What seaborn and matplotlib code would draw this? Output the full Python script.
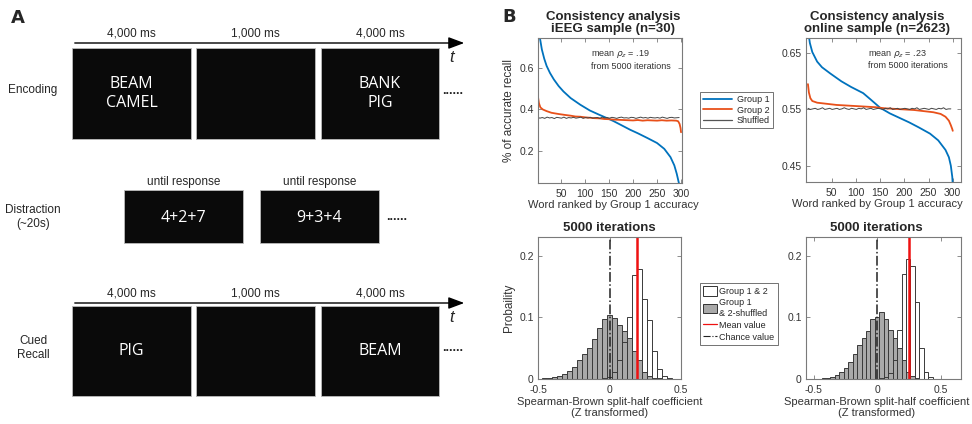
import numpy as np
import pandas as pd
import matplotlib
matplotlib.use("Agg")
import matplotlib.pyplot as plt
import seaborn as sns
from matplotlib.patches import Rectangle, Patch
from matplotlib.lines import Line2D

# ---------------- data ----------------
# Panel A schematic
enc_durations = ["4,000 ms", "1,000 ms", "4,000 ms"]
enc_words = ["BEAM\nCAMEL", "", "BANK\nPIG"]
dis_durations = ["until response", "until response"]
dis_words = ["4+2+7", "9+3+4"]
rec_durations = ["4,000 ms", "1,000 ms", "4,000 ms"]
rec_words = ["PIG", "", "BEAM"]
row_names = ["Encoding", "Distraction\n(~20s)", "Cued\nRecall"]

# Panel B top: recall curves (word rank -> accuracy)
g1_ieeg_rank = [1, 3, 6, 10, 15, 20, 27, 35, 45, 55, 70, 90, 110, 130, 145, 160, 175, 194, 210, 230,
                250, 265, 278, 286, 291, 294, 297, 300]
g1_ieeg = [0.80, 0.77, 0.745, 0.69, 0.645, 0.61, 0.576, 0.545, 0.513, 0.487, 0.455, 0.423, 0.395, 0.374,
           0.359, 0.343, 0.325, 0.302, 0.285, 0.262, 0.238, 0.21, 0.17, 0.13, 0.09, 0.06, 0.03, 0.0]
g2_ieeg_rank = [1, 2, 4, 7, 12, 20, 30, 45, 60, 70, 80, 90, 100, 110, 120, 130, 140, 150, 160, 170, 180,
                190, 200, 210, 220, 230, 240, 250, 260, 270, 280, 290, 294, 297, 299, 300]
g2_ieeg = [0.485, 0.46, 0.43, 0.41, 0.40, 0.392, 0.384, 0.378, 0.373, 0.37, 0.366, 0.365, 0.362, 0.36,
           0.358, 0.357, 0.354, 0.353, 0.351, 0.35, 0.349, 0.348, 0.347, 0.349, 0.346, 0.348, 0.347,
           0.346, 0.348, 0.346, 0.347, 0.346, 0.343, 0.33, 0.31, 0.29]
sh_rank = list(range(1, 301, 5))
sh_ieeg = [0.362, 0.358, 0.361, 0.357, 0.363, 0.359, 0.361, 0.356, 0.362, 0.360, 0.358, 0.363, 0.357,
           0.361, 0.359, 0.362, 0.358, 0.360, 0.363, 0.357, 0.361, 0.359, 0.362, 0.358, 0.360, 0.361,
           0.357, 0.363, 0.359, 0.361, 0.358, 0.362, 0.360, 0.357, 0.361, 0.363, 0.359, 0.360, 0.358,
           0.362, 0.361, 0.357, 0.360, 0.363, 0.359, 0.361, 0.358, 0.362, 0.360, 0.359, 0.361, 0.358,
           0.363, 0.360, 0.357, 0.361, 0.362, 0.359, 0.360, 0.361]

g1_onl_rank = [1, 3, 5, 10, 20, 30, 47, 70, 90, 115, 130, 150, 170, 190, 210, 230, 253, 270, 285, 292,
               296, 299, 300]
g1_onl = [0.70, 0.68, 0.668, 0.652, 0.635, 0.625, 0.614, 0.60, 0.59, 0.579, 0.568, 0.553, 0.543, 0.535,
          0.527, 0.518, 0.507, 0.495, 0.478, 0.465, 0.45, 0.43, 0.415]
g2_onl_rank = [1, 3, 6, 10, 20, 40, 60, 80, 100, 120, 140, 150, 160, 180, 200, 220, 240, 260, 275, 285,
               292, 296, 299, 300]
g2_onl = [0.595, 0.58, 0.57, 0.565, 0.562, 0.560, 0.558, 0.557, 0.556, 0.555, 0.554, 0.553, 0.552, 0.551,
          0.550, 0.549, 0.547, 0.545, 0.542, 0.537, 0.530, 0.522, 0.515, 0.512]
sh_onl = [0.552, 0.550, 0.551, 0.552, 0.550, 0.551, 0.553, 0.550, 0.551, 0.552, 0.550, 0.551, 0.552,
          0.550, 0.551, 0.553, 0.551, 0.550, 0.552, 0.551, 0.550, 0.552, 0.551, 0.553, 0.550, 0.551,
          0.552, 0.550, 0.551, 0.552, 0.551, 0.550, 0.552, 0.551, 0.553, 0.550, 0.551, 0.552, 0.550,
          0.551, 0.552, 0.551, 0.550, 0.552, 0.551, 0.553, 0.550, 0.551, 0.552, 0.551, 0.550, 0.552,
          0.551, 0.550, 0.552, 0.551, 0.553, 0.550, 0.551, 0.551]

# Panel B bottom: split-half histograms (bin centre -> probability)
bin_centers = [-0.455, -0.42, -0.385, -0.35, -0.315, -0.28, -0.245, -0.21, -0.175, -0.14, -0.105, -0.07,
               -0.035, 0.0, 0.035, 0.07, 0.105, 0.14, 0.175, 0.21, 0.245, 0.28, 0.315, 0.35, 0.385, 0.42]
shuf_ieeg_prob = [0.001, 0.002, 0.003, 0.005, 0.008, 0.013, 0.019, 0.030, 0.040, 0.051, 0.065, 0.083,
                  0.097, 0.103, 0.098, 0.087, 0.077, 0.067, 0.045, 0.030, 0.012, 0.005, 0.002, 0.001, 0.0, 0.0]
real_ieeg_prob = [0.0, 0.0, 0.0, 0.0, 0.0, 0.0, 0.0, 0.0, 0.0, 0.0, 0.0, 0.0,
                  0.001, 0.003, 0.012, 0.030, 0.060, 0.100, 0.168, 0.178, 0.130, 0.095, 0.046, 0.016, 0.005, 0.001]
shuf_onl_prob = [0.0, 0.001, 0.002, 0.004, 0.007, 0.012, 0.018, 0.028, 0.040, 0.055, 0.067, 0.077,
                 0.097, 0.101, 0.108, 0.097, 0.080, 0.066, 0.050, 0.030, 0.012, 0.005, 0.002, 0.0, 0.0, 0.0]
real_onl_prob = [0.0, 0.0, 0.0, 0.0, 0.0, 0.0, 0.0, 0.0, 0.0, 0.0, 0.0, 0.0,
                 0.0, 0.0, 0.001, 0.003, 0.010, 0.030, 0.080, 0.170, 0.195, 0.183, 0.125, 0.050, 0.012, 0.003]
mean_ieeg = 0.19
mean_onl = 0.25
chance = 0.0

# ---------------- style ----------------
sns.set_theme(style="ticks")
plt.rcParams["font.family"] = ["Liberation Sans", "DejaVu Sans"]
plt.rcParams["mathtext.fontset"] = "dejavusans"

W, H = 972, 424
fig = plt.figure(figsize=(W / 100, H / 100), dpi=100)


def rect(x0, y0, x1, y1):
    return [x0 / W, 1 - y1 / H, (x1 - x0) / W, (y1 - y0) / H]


BLUE = "#0072BD"
ORANGE = "#E8501A"
FRAME = "#7a7a7a"
TXT = "#333333"
EDGE = "#3a3a3a"

# ---------------- Panel A ----------------
axA = fig.add_axes([0, 0, 486 / W, 1])
axA.set_xlim(0, 486)
axA.set_ylim(424, 0)
axA.axis("off")
fontA = ["Liberation Sans", "DejaVu Sans"]
fontW = ["Open Sans", "DejaVu Sans"]

axA.text(11, 18, "A", fontsize=13, fontweight="bold", ha="left", va="center", family=["DejaVu Sans"])

box_x = [(72, 191), (196, 315), (321, 439)]
rows = [(48, 139, enc_durations, enc_words, 43, 0), (306, 396, rec_durations, rec_words, 303, 2)]
for (y0, y1, durs, words, ay, ri) in rows:
    axA.annotate("", xy=(467, ay), xytext=(72, ay),
                 arrowprops=dict(arrowstyle="-|>,head_length=0.8,head_width=0.3", color="black", lw=1.0))
    axA.text(452, ay + 14, "t", fontsize=12, style="italic", ha="center", va="center", family=fontA)
    for (x0, x1), d, w in zip(box_x, durs, words):
        axA.add_patch(Rectangle((x0, y0), x1 - x0, y1 - y0, facecolor="#0a0a0a", edgecolor="#bbbbbb", lw=0.6))
        axA.text((x0 + x1) / 2, ay - 9, d, fontsize=8.5, ha="center", va="center", family=fontA)
        if w:
            axA.text((x0 + x1) / 2, (y0 + y1) / 2, w, fontsize=11.5, color="white", ha="center",
                     va="center", family=fontW, linespacing=1.2)
    axA.text(453, (y0 + y1) / 2 - 3, "......", fontsize=9, fontweight="bold", ha="center",
             va="center", family=fontA)
    axA.text(33, (y0 + y1) / 2 - 3, row_names[ri], fontsize=8.5, ha="center", va="center",
             family=fontA, linespacing=1.3)

dis_x = [(124, 243), (260, 379)]
for (x0, x1), d, w in zip(dis_x, dis_durations, dis_words):
    axA.add_patch(Rectangle((x0, 190), x1 - x0, 53, facecolor="#0a0a0a", edgecolor="#bbbbbb", lw=0.6))
    axA.text((x0 + x1) / 2, 182, d, fontsize=8.5, ha="center", va="center", family=fontA)
    axA.text((x0 + x1) / 2, 218, w, fontsize=11.5, color="white", ha="center", va="center", family=fontW)
axA.text(397, 217, "......", fontsize=9, fontweight="bold", ha="center", va="center", family=fontA)
axA.text(33, 217, row_names[1], fontsize=8.5, ha="center", va="center", family=fontA, linespacing=1.3)

fig.text(509 / W, 1 - 17 / H, "B", fontsize=13, fontweight="bold", ha="center", va="center",
         family=["DejaVu Sans"])


def style_axes(ax):
    for s in ax.spines.values():
        s.set_color(FRAME)
        s.set_linewidth(0.8)
    ax.tick_params(direction="in", top=True, right=True, length=3, width=0.6, color=FRAME,
                   labelsize=7.5, labelcolor=TXT)
    ax.tick_params(axis="x", pad=4)
    ax.tick_params(axis="y", pad=3)


# ---------------- Panel B top ----------------
def curve_panel(rc, title, g1r, g1, g2r, g2, sh, ylim, yticks, xlim, note, ylabel, cx):
    ax = fig.add_axes(rect(*rc))
    sns.lineplot(x=g1r, y=g1, ax=ax, color=BLUE, lw=1.3)
    sns.lineplot(x=g2r, y=g2, ax=ax, color=ORANGE, lw=1.3)
    sns.lineplot(x=sh_rank, y=sh, ax=ax, color="#444444", lw=0.7)
    ax.set_xlim(*xlim)
    ax.set_ylim(*ylim)
    ax.set_xticks([50, 100, 150, 200, 250, 300])
    ax.set_yticks(yticks)
    ax.set_yticklabels([f"{v:g}" for v in yticks])
    style_axes(ax)
    ax.set_title(title, fontsize=9.5, fontweight="bold", pad=4, linespacing=1.1, x=cx)
    ax.set_xlabel("Word ranked by Group 1 accuracy", fontsize=8, color=TXT, labelpad=1)
    ax.xaxis.set_label_coords(cx, -0.115)
    ax.set_ylabel(ylabel, fontsize=8.5, color=TXT, labelpad=3)
    ax.text(0.37, 0.93, note, transform=ax.transAxes, fontsize=6.5, color=TXT, va="top", ha="left",
            linespacing=1.2)
    return ax


ax1 = curve_panel((538, 38, 682, 183), "Consistency analysis\niEEG sample (n=30)",
                  g1_ieeg_rank, g1_ieeg, g2_ieeg_rank, g2_ieeg, sh_ieeg,
                  (0.045, 0.745), [0.2, 0.4, 0.6], (2, 302),
                  "mean $\\rho_z$ = .19\nfrom 5000 iterations", "% of accurate recall", 0.52)
ax2 = curve_panel((806, 38, 961, 182), "Consistency analysis\nonline sample (n=2623)",
                  g1_onl_rank, g1_onl, g2_onl_rank, g2_onl, sh_onl,
                  (0.421, 0.677), [0.45, 0.55, 0.65], (-3, 317),
                  "mean $\\rho_z$ = .23\nfrom 5000 iterations", "", 0.46)
ax2.texts[0].set_position((0.4, 0.93))

leg1 = [Line2D([], [], color=BLUE, lw=1.3), Line2D([], [], color=ORANGE, lw=1.3),
        Line2D([], [], color="#555555", lw=0.9)]
fig.legend(leg1, ["Group 1", "Group 2", "Shuffled"], loc="upper left",
           bbox_to_anchor=(700 / W, 1 - 92 / H), fontsize=6.5, frameon=True, fancybox=False,
           edgecolor="#333333", handlelength=3.2, handletextpad=0.5, borderpad=0.35,
           labelspacing=0.15, borderaxespad=0).get_frame().set_linewidth(0.6)


# ---------------- Panel B bottom ----------------
def hist_panel(rc, shuf, real, mean_v, ylabel, xlim, cx):
    ax = fig.add_axes(rect(*rc))
    df = pd.DataFrame({"c": bin_centers, "shuf": shuf, "real": real})
    bw = 0.035
    br = (bin_centers[0] - bw / 2, bin_centers[-1] + bw / 2)
    sns.histplot(data=df, x="c", weights="shuf", binwidth=bw, binrange=br, ax=ax,
                 color="#a9a9a9", edgecolor=EDGE, linewidth=0.7, alpha=1)
    sns.histplot(data=df, x="c", weights="real", binwidth=bw, binrange=br, ax=ax,
                 fill=False, color=EDGE, linewidth=0.7)
    ax.axvline(mean_v, color="#ee1111", lw=1.8)
    ax.axvline(chance, color="#222222", lw=1.1, ls="-.")
    ax.set_xlim(*xlim)
    ax.set_ylim(0, 0.23)
    ax.set_xticks([-0.5, 0, 0.5])
    ax.set_xticklabels(["-0.5", "0", "0.5"])
    ax.set_yticks([0, 0.1, 0.2])
    ax.set_yticklabels(["0", "0.1", "0.2"])
    style_axes(ax)
    ax.set_title("5000 iterations", fontsize=9.5, fontweight="bold", pad=4, x=cx)
    ax.set_xlabel("Spearman-Brown split-half coefficient\n(Z transformed)", fontsize=8, color=TXT,
                  labelpad=1, linespacing=1.1)
    ax.xaxis.set_label_coords(cx, -0.125)
    ax.xaxis.label.set_va("top")
    ax.set_ylabel(ylabel, fontsize=8.5, color=TXT, labelpad=3)
    return ax


ax3 = hist_panel((538, 237, 681, 379), shuf_ieeg_prob, real_ieeg_prob, mean_ieeg, "Probaility",
                 (-0.5, 0.5), 0.5)
ax4 = hist_panel((806, 237, 961, 379), shuf_onl_prob, real_onl_prob, mean_onl, "",
                 (-0.56, 0.66), 0.455)

leg2 = [Patch(facecolor="white", edgecolor="#333333", lw=0.7),
        Patch(facecolor="#a9a9a9", edgecolor="#333333", lw=0.7),
        Line2D([], [], color="#ee1111", lw=0.9),
        Line2D([], [], color="#222222", lw=0.8, ls="-.")]
fig.legend(leg2, ["Group 1 & 2", "Group 1\n& 2-shuffled", "Mean value", "Chance value"],
           loc="upper left", bbox_to_anchor=(700 / W, 1 - 283 / H), fontsize=6.5, frameon=True,
           fancybox=False, edgecolor="#333333", handlelength=1.5, handleheight=1.3,
           handletextpad=0.3, borderpad=0.35, labelspacing=0.25,
           borderaxespad=0).get_frame().set_linewidth(0.6)

fig.savefig("out.png", dpi=100)
